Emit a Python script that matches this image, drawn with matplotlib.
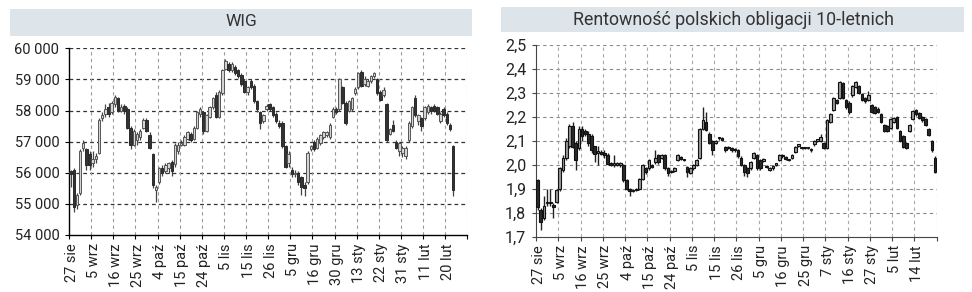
import matplotlib
matplotlib.use("Agg")
import matplotlib.pyplot as plt
from matplotlib.patches import Rectangle
from matplotlib.ticker import FixedLocator, FuncFormatter

plt.rcParams['font.family'] = ['Roboto', 'DejaVu Sans']

# ---------------- WIG data (122 sessions, 27 Aug 2019 - 24 Feb 2020) ----------------
wig_open = [56050, 56100, 54950, 55350, 56800, 56750, 56600, 56300, 56450, 56650,
            57750, 57900, 58100, 57950, 58200, 58400, 58000, 58150, 58050, 57450,
            56900, 57050, 57150, 57450, 57700, 57200, 56600, 55450, 55700, 56150,
            56050, 56150, 56350, 56270, 56700, 56900, 56900, 57100, 57250, 57100,
            57450, 57900, 57950, 57350, 57800, 58100, 58500, 57800, 58550, 59350,
            59500, 59300, 59400, 59300, 59150, 58950, 58600, 58950, 58800, 58300,
            57950, 57650, 58050, 58200, 58100, 57900, 57600, 57600, 56850, 56300,
            56100, 55950, 56000, 55850, 55600, 55700, 56750, 57000, 56800, 56950,
            57150, 57200, 57150, 57800, 58050, 58050, 58750, 58250, 58000, 58050,
            58550, 58750, 59250, 58850, 58800, 58950, 59100, 59000, 58600, 58500,
            58200, 57250, 57550, 57000, 56700, 56650, 56550, 57050, 57500, 58400,
            57650, 57750, 57750, 57950, 58100, 58150, 58100, 57650, 58050, 57900,
            57550, 56850]
wig_high = [56100, 56150, 55350, 56750, 57050, 56800, 56700, 56700, 56650, 57750,
            57950, 58200, 58250, 58300, 58500, 58450, 58200, 58200, 58100, 57500,
            57400, 57300, 57400, 57750, 57750, 57300, 56650, 55600, 56200, 56250,
            56300, 56350, 56400, 56950, 57000, 57050, 57200, 57350, 57300, 57500,
            58000, 58100, 58000, 57900, 58150, 58450, 58600, 58650, 59350, 59650,
            59550, 59550, 59450, 59350, 59200, 59000, 58800, 59000, 58850, 58350,
            58000, 57900, 58200, 58250, 58150, 57950, 57700, 57650, 56900, 56700,
            56200, 56100, 56050, 55900, 55700, 56700, 56900, 57050, 57150, 57250,
            57350, 57350, 57600, 58100, 58100, 59050, 58800, 58300, 58350, 58450,
            58750, 59250, 59300, 59100, 59000, 59150, 59250, 59050, 58650, 58750,
            58250, 57450, 57700, 57050, 57000, 56850, 56850, 57650, 58150, 58500,
            57900, 57800, 58150, 58200, 58150, 58200, 58150, 57950, 58100, 57950,
            57600, 56900]
wig_low = [55550, 54750, 54850, 55300, 56700, 56100, 56100, 56200, 56300, 56600,
           57650, 57800, 57800, 57900, 58100, 57950, 57950, 57900, 57400, 56750,
           56850, 56900, 57050, 57400, 57300, 56750, 55500, 55050, 55650, 55900,
           56000, 56000, 55900, 56200, 56600, 56850, 56850, 57050, 57000, 57050,
           57400, 57800, 57250, 57300, 57750, 58050, 57750, 57750, 58500, 59300,
           59250, 59250, 59150, 59050, 58800, 58550, 58500, 58700, 58250, 57950,
           57400, 57600, 58000, 58000, 57800, 57600, 57450, 56800, 56150, 56200,
           55850, 55850, 55600, 55300, 55250, 55650, 56700, 56700, 56750, 56900,
           57100, 57150, 57100, 57750, 57900, 58000, 58200, 57550, 57950, 58000,
           58500, 58700, 58750, 58800, 58750, 58900, 59050, 58500, 58300, 58450,
           57000, 57200, 57300, 56750, 56550, 56500, 56450, 57000, 57450, 57800,
           57550, 57350, 57700, 57900, 57900, 57950, 57850, 57600, 57800, 57550,
           57350, 55250]
wig_close = [55950, 54900, 55300, 56700, 56950, 56250, 56250, 56450, 56550, 57700,
             57850, 58050, 57900, 58250, 58450, 58000, 58100, 58000, 57450, 56900,
             57350, 57250, 57350, 57700, 57350, 56800, 55600, 55550, 56150, 56000,
             56250, 56300, 56050, 56900, 56900, 56950, 57150, 57300, 57050, 57450,
             57950, 58050, 57350, 57850, 58100, 58400, 57800, 58600, 59300, 59600,
             59300, 59500, 59200, 59100, 58850, 58600, 58750, 58750, 58300, 58050,
             57600, 57850, 58150, 58050, 57850, 57650, 57500, 56850, 56200, 56600,
             55950, 56000, 55700, 55550, 55500, 56650, 56850, 56750, 57100, 57200,
             57300, 57300, 57550, 58050, 57950, 59000, 58250, 57600, 58300, 58400,
             58700, 59200, 58800, 59000, 58950, 59100, 59200, 58550, 58350, 58650,
             57050, 57400, 57350, 56800, 56950, 56800, 56800, 57600, 58100, 57850,
             57850, 57500, 58100, 58150, 58000, 58000, 57900, 57900, 57850, 57600,
             57400, 55450]
wig_yticks = [54000, 55000, 56000, 57000, 58000, 59000, 60000]
wig_xlabels = ['27 sie', '5 wrz', '16 wrz', '25 wrz', '4 paź', '15 paź', '24 paź', '5 lis',
               '15 lis', '26 lis', '5 gru', '16 gru', '30 gru', '13 sty', '22 sty',
               '31 sty', '11 lut', '20 lut']

# ---------------- Polish 10Y yield data (126 sessions) ----------------
pl_open = [1.935, 1.81, 1.78, 1.84, 1.845, 1.83, 1.845, 1.90, 1.98, 2.03,
           2.08, 2.16, 2.09, 2.07, 2.15, 2.14, 2.13, 2.12, 2.08, 2.05,
           2.055, 2.05, 2.04, 2.005, 2.0, 2.0, 2.0, 2.0, 1.935, 1.90,
           1.89, 1.895, 1.90, 1.94, 1.985, 1.985, 2.0, 2.01, 2.04, 2.03,
           2.04, 1.985, 1.97, 1.975, 2.02, 2.03, 2.02, 1.99, 1.965, 1.985,
           2.0, 2.03, 2.15, 2.18, 2.13, 2.10, 2.09, 2.11, 2.11, 2.075,
           2.07, 2.07, 2.06, 2.06, 2.03, 2.0, 1.985, 1.985, 2.03, 2.04,
           2.02, 2.015, 1.995, 1.98, 1.985, 2.0, 2.02, 2.04, 2.03, 2.02,
           2.03, 2.055, 2.08, 2.07, 2.07, 2.07, 2.06, 2.085, 2.10, 2.10,
           2.09, 2.07, 2.18, 2.23, 2.27, 2.28, 2.34, 2.27, 2.26, 2.29,
           2.325, 2.33, 2.295, 2.28, 2.27, 2.25, 2.24, 2.235, 2.21, 2.165,
           2.16, 2.155, 2.18, 2.20, 2.14, 2.12, 2.09, 2.14, 2.19, 2.23,
           2.215, 2.20, 2.19, 2.15, 2.10, 2.03]
pl_high = [1.94, 1.82, 1.87, 1.90, 1.90, 1.84, 1.90, 1.99, 2.04, 2.11,
           2.17, 2.18, 2.10, 2.16, 2.16, 2.15, 2.14, 2.13, 2.08, 2.08,
           2.06, 2.06, 2.05, 2.01, 2.04, 2.01, 2.01, 2.005, 1.94, 1.905,
           1.90, 1.905, 1.945, 2.005, 1.99, 2.025, 2.005, 2.06, 2.045, 2.045,
           2.045, 1.99, 1.98, 1.99, 2.045, 2.035, 2.025, 1.995, 1.99, 2.005,
           2.025, 2.155, 2.24, 2.22, 2.135, 2.105, 2.105, 2.115, 2.115, 2.08,
           2.08, 2.075, 2.07, 2.065, 2.035, 2.005, 1.99, 2.015, 2.055, 2.045,
           2.025, 2.03, 2.0, 1.99, 2.0, 2.005, 2.045, 2.045, 2.035, 2.025,
           2.045, 2.08, 2.085, 2.075, 2.075, 2.075, 2.07, 2.105, 2.105, 2.13,
           2.095, 2.19, 2.215, 2.285, 2.275, 2.35, 2.345, 2.275, 2.265, 2.335,
           2.35, 2.335, 2.30, 2.285, 2.31, 2.255, 2.245, 2.24, 2.215, 2.17,
           2.165, 2.195, 2.20, 2.205, 2.145, 2.125, 2.095, 2.17, 2.23, 2.235,
           2.22, 2.205, 2.195, 2.155, 2.105, 2.035]
pl_low = [1.81, 1.73, 1.77, 1.83, 1.83, 1.78, 1.84, 1.89, 1.97, 2.02,
          2.07, 2.07, 1.98, 2.06, 2.10, 2.12, 2.08, 2.05, 2.01, 2.00,
          2.04, 2.03, 2.00, 1.995, 1.99, 1.995, 1.99, 1.93, 1.895, 1.87,
          1.885, 1.89, 1.895, 1.935, 1.96, 1.98, 1.985, 2.005, 2.005, 2.025,
          1.98, 1.955, 1.965, 1.97, 2.015, 2.02, 2.015, 1.95, 1.96, 1.98,
          1.995, 2.025, 2.145, 2.14, 2.085, 2.04, 2.085, 2.105, 2.10, 2.055,
          2.065, 2.055, 2.055, 2.03, 1.995, 1.955, 1.95, 1.98, 2.025, 1.98,
          1.98, 2.01, 1.985, 1.975, 1.98, 1.995, 2.015, 2.03, 2.02, 2.015,
          2.025, 2.05, 2.075, 2.065, 2.065, 2.065, 2.055, 2.08, 2.095, 2.095,
          2.065, 2.065, 2.175, 2.225, 2.255, 2.275, 2.275, 2.235, 2.21, 2.285,
          2.32, 2.295, 2.265, 2.26, 2.265, 2.215, 2.21, 2.215, 2.175, 2.135,
          2.135, 2.15, 2.175, 2.15, 2.095, 2.07, 2.065, 2.135, 2.185, 2.205,
          2.19, 2.18, 2.16, 2.12, 2.055, 1.965]
pl_close = [1.825, 1.76, 1.83, 1.845, 1.84, 1.825, 1.895, 1.985, 2.03, 2.10,
            2.16, 2.075, 2.02, 2.15, 2.12, 2.13, 2.09, 2.06, 2.045, 2.055,
            2.045, 2.04, 2.005, 2.0, 2.005, 2.0, 2.005, 1.937, 1.90, 1.89,
            1.895, 1.90, 1.94, 2.0, 1.97, 2.02, 1.99, 2.03, 2.01, 2.04,
            1.985, 1.965, 1.975, 1.985, 2.04, 2.025, 2.02, 1.97, 1.985, 2.0,
            2.02, 2.15, 2.185, 2.145, 2.09, 2.06, 2.10, 2.11, 2.105, 2.06,
            2.075, 2.06, 2.065, 2.035, 2.0, 1.97, 1.965, 2.01, 2.05, 1.985,
            1.985, 2.025, 1.99, 1.985, 1.995, 2.0, 2.04, 2.035, 2.025, 2.02,
            2.04, 2.075, 2.08, 2.07, 2.07, 2.07, 2.065, 2.10, 2.10, 2.115,
            2.07, 2.185, 2.21, 2.28, 2.26, 2.345, 2.28, 2.24, 2.22, 2.33,
            2.345, 2.30, 2.27, 2.265, 2.29, 2.22, 2.215, 2.22, 2.18, 2.14,
            2.14, 2.19, 2.195, 2.155, 2.10, 2.075, 2.07, 2.165, 2.225, 2.21,
            2.195, 2.185, 2.165, 2.125, 2.06, 1.97]
pl_yticks = [1.7, 1.8, 1.9, 2.0, 2.1, 2.2, 2.3, 2.4, 2.5]
pl_xlabels = ['27 sie', '5 wrz', '16 wrz', '25 wrz', '4 paź', '15 paź', '24 paź', '5 lis',
              '15 lis', '26 lis', '5 gru', '16 gru', '25 gru', '7 sty', '16 sty',
              '27 sty', '5 lut', '14 lut']

W, H = 972, 292
fig = plt.figure(figsize=(W / 100, H / 100), dpi=100)
BAND = '#dde4ea'
TXT = '#222222'


def fx(px):
    return px / W


def fy(py):
    return 1 - py / H


# title bands
fig.patches.append(Rectangle((fx(10), fy(35.5)), fx(462), 26.5 / H, transform=fig.transFigure,
                             facecolor=BAND, edgecolor='none', zorder=0))
fig.text(fx(241), fy(22), 'WIG', ha='center', va='center', fontsize=12.5, color='#333333')
fig.patches.append(Rectangle((fx(501), fy(32)), fx(463), 24.5 / H, transform=fig.transFigure,
                             facecolor=BAND, edgecolor='none', zorder=0))
fig.text(fx(733), fy(20), 'Rentowność polskich obligacji 10-letnich', ha='center', va='center',
         fontsize=12.8, color='#333333')


def candles(ax, o, h, l, c, up_face, up_edge, dn_face, dn_edge, wick, minh, width, elw, wlw):
    xs = [i + 0.5 for i in range(len(o))]
    for x, oo, hh, ll, cc in zip(xs, o, h, l, c):
        up = cc >= oo
        ax.vlines(x, ll, hh, color=wick, lw=wlw, zorder=3)
        bot = min(oo, cc)
        ht = max(abs(cc - oo), minh)
        ax.bar(x, ht, bottom=bot, width=width,
               color=up_face if up else dn_face,
               edgecolor=up_edge if up else dn_edge, linewidth=elw, zorder=4)


def setup_x(ax, labels, ncat, spine_col):
    ax.set_xlim(0, ncat)
    ax.xaxis.set_major_locator(FixedLocator(list(range(0, ncat + 1, 7))))
    ax.xaxis.set_major_formatter(FuncFormatter(lambda v, p: ''))
    ax.xaxis.set_minor_locator(FixedLocator([7 * k + 0.8 for k in range(len(labels))]))
    ax.xaxis.set_minor_formatter(FuncFormatter(lambda v, p: labels[int(round((v - 0.8) / 7))]))
    ax.tick_params(axis='x', which='major', direction='out', length=3, width=0.8, color=spine_col)
    ax.tick_params(axis='x', which='minor', length=0, labelrotation=90, labelsize=10.5,
                   labelcolor=TXT, pad=6)


# ---------------- left: WIG ----------------
ax1 = fig.add_axes([fx(69), fy(235), fx(467.3 - 69), (235 - 48.3) / H])
ax1.set_ylim(54000, 60000)
setup_x(ax1, wig_xlabels, 126, '#000000')
ax1.set_yticks(wig_yticks)
ax1.yaxis.set_major_formatter(FuncFormatter(lambda v, p: f"{int(v):,}".replace(',', ' ')))
ax1.tick_params(axis='y', direction='out', length=3, width=0.8, labelsize=10.5, labelcolor=TXT, pad=4)
for v in wig_yticks[1:]:
    ax1.axhline(v, color='#333333', lw=0.9, ls=(0, (3, 2.5)), zorder=1)
for k in range(1, 19):
    ax1.axvline(7 * k, color='#9a9a9a', lw=0.8, ls=(0, (3, 3)), zorder=1)
for s in ['top', 'right']:
    ax1.spines[s].set_visible(False)
ax1.spines['left'].set_color('#000000')
ax1.spines['bottom'].set_color('#000000')
ax1.spines['left'].set_linewidth(1.0)
ax1.spines['bottom'].set_linewidth(1.0)
candles(ax1, wig_open, wig_high, wig_low, wig_close,
        '#d4d4d4', '#555555', '#333333', '#2a2a2a', '#444444', 25, 0.78, 0.7, 0.9)

# ---------------- right: 10Y yield ----------------
ax2 = fig.add_axes([fx(536), fy(236.7), fx(936.7 - 536), (236.7 - 45) / H])
ax2.set_ylim(1.7, 2.5)
setup_x(ax2, pl_xlabels, 126, '#444444')
ax2.set_yticks(pl_yticks)
ax2.yaxis.set_major_formatter(FuncFormatter(lambda v, p: f"{v:.1f}".replace('.', ',')))
ax2.tick_params(axis='y', direction='out', length=3, width=0.8, color='#444444',
                labelsize=11.5, labelcolor=TXT, pad=4)
for v in pl_yticks[1:]:
    ax2.axhline(v, color='#8a8a8a', lw=0.8, ls=(0, (3, 3)), zorder=1)
for k in range(1, 19):
    ax2.axvline(7 * k, color='#a8a8a8', lw=0.8, ls=(0, (3, 3)), zorder=1)
for s in ['top', 'right']:
    ax2.spines[s].set_visible(False)
ax2.spines['left'].set_color('#444444')
ax2.spines['bottom'].set_color('#444444')
candles(ax2, pl_open, pl_high, pl_low, pl_close,
        '#9a9a9a', '#111111', '#2a2a2a', '#111111', '#222222', 0.006, 0.85, 0.8, 1.0)

fig.savefig('out.png', dpi=100)
